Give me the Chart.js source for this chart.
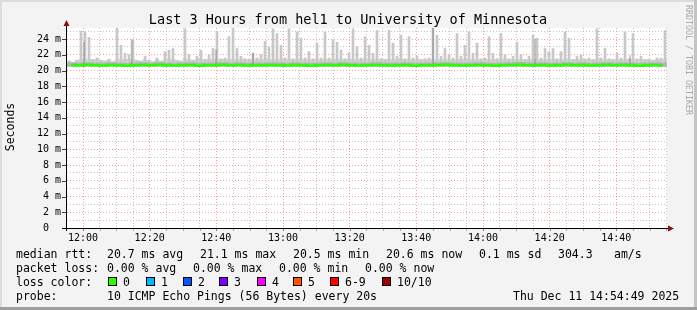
<!DOCTYPE html>
<html>
<head>
<meta charset="utf-8">
<script src="https://cdn.jsdelivr.net/npm/chart.js@4"></script>
<style>
  html, body { margin: 0; padding: 0; background: #f3f3f3; }
  canvas { display: block; }
</style>
</head>
<body>
<canvas id="smoke" width="697" height="310"></canvas>
<script>
// minutes relative to 12:00
const startMin = -4.8;
const endMin = 175.2;
const tickEvery = 5;
const labelEvery = 20;

// max ping per 1.2 min slot (values in ms, shown as "m")
const smokeStep = 1.2;
const smokeTop = [
  21.2, 21.0, 21.3, 25.0, 24.9, 24.2, 21.4, 21.6, 21.3, 21.2,
  21.4, 21.1, 25.4, 23.2, 22.2, 22.0, 23.9, 21.3, 21.2, 21.8,
  21.3, 21.1, 21.6, 21.2, 22.4, 22.6, 22.8, 21.3, 21.2, 25.3,
  22.0, 21.3, 21.8, 22.6, 21.4, 22.0, 22.8, 24.9, 21.5, 21.6,
  24.3, 25.5, 22.8, 21.8, 21.5, 21.4, 22.2, 21.6, 22.0, 23.7,
  23.0, 25.3, 24.7, 23.2, 21.6, 25.3, 21.5, 24.9, 24.1, 21.6,
  22.4, 21.5, 23.5, 21.6, 24.9, 21.6, 23.9, 23.6, 22.6, 21.5,
  22.2, 25.3, 23.0, 21.6, 24.3, 23.2, 22.2, 25.1, 21.5, 21.4,
  25.1, 23.5, 21.8, 24.5, 21.5, 24.3, 21.6, 21.8, 21.4, 21.5,
  21.6, 25.5, 24.5, 21.8, 22.8, 22.0, 21.6, 24.7, 21.8, 23.2,
  24.9, 22.2, 23.5, 21.5, 21.6, 24.3, 22.2, 21.5, 24.7, 22.0,
  21.5, 21.8, 23.6, 22.0, 21.4, 21.8, 24.5, 24.1, 21.6, 22.8,
  22.4, 22.8, 21.5, 22.4, 24.9, 24.1, 21.4, 21.8, 22.0, 21.5,
  21.6, 21.4, 25.3, 21.6, 22.8, 21.5, 21.4, 22.2, 21.6, 24.9,
  21.5, 24.7, 21.5, 21.8, 21.4, 21.4, 21.3, 21.6, 21.6, 25.1
];
const smokeLow = 20.5;

// median rtt per 2.4 min slot
const medianStep = 2.4;
const median = [
  20.70, 20.66, 20.72, 20.68, 20.64, 20.70, 20.66, 20.62, 20.68, 20.70,
  20.66, 20.72, 20.68, 20.64, 20.68, 20.70, 20.62, 20.66, 20.68, 20.72,
  20.66, 20.70, 20.64, 20.68, 20.66, 20.70, 20.68, 20.64, 20.70, 20.66,
  20.62, 20.68, 20.70, 20.66, 20.72, 20.68, 20.64, 20.66, 20.70, 20.68,
  20.64, 20.66, 20.70, 20.62, 20.68, 20.66, 20.70, 20.72, 20.66, 20.64,
  20.68, 20.70, 20.66, 20.62, 20.68, 20.70, 20.74, 20.68, 20.66, 20.70,
  20.64, 20.68, 20.72, 20.66, 20.70, 20.64, 20.68, 20.72, 20.66, 20.70,
  20.66, 20.62, 20.68, 20.70, 20.66
];

// darker smoke spikes
const darkSpikeAt = [0.3, 14.6, 39.9, 51.0, 105.0, 135.6, 164.1];
const darkSpikeTop = [23.6, 23.9, 22.6, 22.2, 25.4, 24.0, 21.9];

const yMax = 25.4;
const title = 'Last 3 Hours from hel1 to University of Minnesota';
const rttStats = ['20.7 ms avg', '21.1 ms max', '20.5 ms min', '20.6 ms now', '0.1 ms sd', '304.3', 'am/s'];
const lossStats = ['0.00 % avg', '0.00 % max', '0.00 % min', '0.00 % now'];
const lossLabels = ['0', '1', '2', '3', '4', '5', '6-9', '10/10'];
const lossColors = ['#26ff00', '#00b8ff', '#0059ff', '#7e00ff', '#ff00ff', '#ff5500', '#ff0000', '#a00000'];
const probeText = '10 ICMP Echo Pings (56 Bytes) every 20s';
const stamp = 'Thu Dec 11 14:54:49 2025';

const MONO = '"DejaVu Sans Mono", monospace';

function hhmm(v) {
  const m = 12 * 60 + v;
  return String(Math.floor(m / 60)).padStart(2, '0') + ':' + String(m % 60).padStart(2, '0');
}

const smokeX = i => startMin + smokeStep * (i + 0.5);
const medX = i => startMin + medianStep * (i + 0.5);

const hazeData = smokeTop.map((v, i) => ({ x: smokeX(i), y: [smokeLow, Math.min(v, 21.4)] }));
const spikeData = smokeTop.map((v, i) => ({ x: smokeX(i), y: [smokeLow, v] }));
const darkBand = median.map((v, i) => ({ x: medX(i), y: [smokeLow + 0.05, v + 0.3] }));
const darkSpikes = darkSpikeAt.map((t, i) => ({ x: t, y: [smokeLow, darkSpikeTop[i]] }));
const medLine = median.map((v, i) => ({ x: medX(i), y: v }));

const decor = {
  id: 'decor',
  beforeDraw(chart) {
    const { ctx, chartArea: a } = chart;
    ctx.save();
    ctx.fillStyle = '#f3f3f3';
    ctx.fillRect(0, 0, chart.width, chart.height);
    ctx.fillStyle = '#ffffff';
    ctx.fillRect(a.left, a.top, a.right - a.left, a.bottom - a.top);
    ctx.restore();
  },
  afterDraw(chart) {
    const { ctx, chartArea: a } = chart;
    const ys = chart.scales.y, xs = chart.scales.x;
    ctx.save();

    // y ticks
    ctx.strokeStyle = '#404040';
    ctx.lineWidth = 1;
    for (let v = 0; v <= 24; v += 2) {
      const y = Math.round(ys.getPixelForValue(v)) + 0.5;
      ctx.beginPath(); ctx.moveTo(62, y); ctx.lineTo(a.left, y); ctx.stroke();
    }
    // x ticks
    for (let t = 0; t <= endMin; t += tickEvery) {
      const x = Math.round(xs.getPixelForValue(t)) + 0.5;
      ctx.strokeStyle = t % labelEvery === 0 ? 'rgba(220,60,60,0.8)' : 'rgba(120,120,120,0.6)';
      ctx.beginPath(); ctx.moveTo(x, a.bottom); ctx.lineTo(x, a.bottom + 3); ctx.stroke();
    }

    // axes
    ctx.strokeStyle = '#000';
    ctx.beginPath(); ctx.moveTo(a.left - 0.5, a.bottom + 3); ctx.lineTo(a.left - 0.5, a.top - 3); ctx.stroke();
    ctx.beginPath(); ctx.moveTo(62, a.bottom + 0.5); ctx.lineTo(a.right + 3, a.bottom + 0.5); ctx.stroke();
    ctx.fillStyle = '#8b1010';
    ctx.beginPath(); ctx.moveTo(a.left - 0.5, a.top - 8); ctx.lineTo(a.left - 3.5, a.top - 2); ctx.lineTo(a.left + 2.5, a.top - 2); ctx.closePath(); ctx.fill();
    ctx.beginPath(); ctx.moveTo(a.right + 7, a.bottom + 0.5); ctx.lineTo(a.right + 1, a.bottom - 2.5); ctx.lineTo(a.right + 1, a.bottom + 3.5); ctx.closePath(); ctx.fill();

    // title
    ctx.fillStyle = '#000';
    ctx.font = '13.5px ' + MONO;
    ctx.textAlign = 'center';
    ctx.textBaseline = 'alphabetic';
    ctx.fillText(title, 348, 24);

    // y title
    ctx.save();
    ctx.translate(14, 127);
    ctx.rotate(-Math.PI / 2);
    ctx.font = '11.5px ' + MONO;
    ctx.fillText('Seconds', 0, 0);
    ctx.restore();

    // watermark
    ctx.save();
    ctx.translate(686, 5);
    ctx.rotate(Math.PI / 2);
    ctx.font = '8.3px ' + MONO;
    ctx.fillStyle = '#a8a8a8';
    ctx.textAlign = 'left';
    ctx.fillText('RRDTOOL / TOBI OETIKER', 0, 0);
    ctx.restore();

    // legend
    ctx.font = '11.5px ' + MONO;
    ctx.textAlign = 'left';
    ctx.fillStyle = '#000';
    ctx.fillText('median rtt:', 16, 258);
    [107, 200, 293, 386, 479, 558, 614].forEach((x, i) => ctx.fillText(rttStats[i], x, 258));
    ctx.fillText('packet loss:', 16, 272);
    [107, 193, 279, 365].forEach((x, i) => ctx.fillText(lossStats[i], x, 272));
    ctx.fillText('loss color:', 16, 286);
    [108, 146, 183, 219, 257, 293, 330, 382].forEach((x, i) => {
      ctx.fillStyle = lossColors[i];
      ctx.fillRect(x, 277, 9, 9);
      ctx.strokeStyle = '#000';
      ctx.strokeRect(x + 0.5, 277.5, 8, 8);
      ctx.fillStyle = '#000';
      ctx.fillText(lossLabels[i], x + 15, 286);
    });
    ctx.fillText('probe:', 16, 300);
    ctx.fillText(probeText, 107, 300);
    ctx.fillText(stamp, 513, 300);

    // frame
    ctx.fillStyle = '#dcdcdc';
    ctx.fillRect(0, 0, chart.width, 2);
    ctx.fillRect(0, 0, 2, chart.height);
    ctx.fillStyle = '#c4c4c4';
    ctx.fillRect(chart.width - 3, 0, 3, chart.height);
    ctx.fillStyle = '#9e9e9e';
    ctx.fillRect(0, chart.height - 3, chart.width, 3);
    ctx.restore();
  }
};

const gridDash = { display: false, dash: [1, 2] };

new Chart(document.getElementById('smoke'), {
  type: 'bar',
  data: {
    datasets: [
      { type: 'line', data: medLine, borderColor: '#26ff00', borderWidth: 2.5, pointRadius: 0, stepped: 'middle', order: 0 },
      { data: darkSpikes, backgroundColor: 'rgba(120,120,120,0.45)', barThickness: 1, order: 1 },
      { data: darkBand, backgroundColor: 'rgba(150,150,150,0.45)', barThickness: 8, order: 2 },
      { data: spikeData, backgroundColor: '#c8c8c8', barThickness: 2, order: 3 },
      { data: hazeData, backgroundColor: '#d4d4d4', barThickness: 4, order: 4 }
    ]
  },
  options: {
    responsive: false,
    animation: false,
    devicePixelRatio: 1,
    layout: { padding: { top: 28, right: 30, left: 0, bottom: 0 } },
    datasets: { bar: { grouped: false, borderWidth: 0 } },
    plugins: { legend: { display: false }, tooltip: { enabled: false } },
    scales: {
      x: {
        type: 'linear',
        min: startMin,
        max: endMin,
        offset: false,
        afterFit(s) { s.height = 82; },
        afterBuildTicks(s) {
          const ticks = [];
          for (let t = 0; t <= endMin; t += tickEvery) ticks.push({ value: t });
          s.ticks = ticks;
        },
        border: gridDash,
        grid: {
          offset: false,
          drawTicks: false,
          color: c => (c.tick && c.tick.value % labelEvery === 0) ? 'rgba(255,90,90,0.6)' : 'rgba(150,150,150,0.55)'
        },
        ticks: {
          autoSkip: false,
          maxRotation: 0,
          padding: 4,
          color: '#000',
          font: { family: MONO, size: 10 },
          callback: v => v % labelEvery === 0 ? hhmm(v) : ''
        }
      },
      y: {
        min: 0,
        max: yMax,
        afterFit(s) { s.width = 67; },
        border: gridDash,
        grid: {
          drawTicks: false,
          color: c => (c.tick && c.tick.value % 2 === 0) ? 'rgba(255,90,90,0.6)' : 'rgba(150,150,150,0.55)'
        },
        ticks: {
          stepSize: 1,
          includeBounds: false,
          autoSkip: false,
          padding: 6,
          color: '#000',
          font: { family: MONO, size: 10 },
          callback: v => v % 2 === 0 ? (v === 0 ? '0  ' : v + ' m') : ''
        }
      }
    }
  },
  plugins: [decor]
});
</script>
</body>
</html>
